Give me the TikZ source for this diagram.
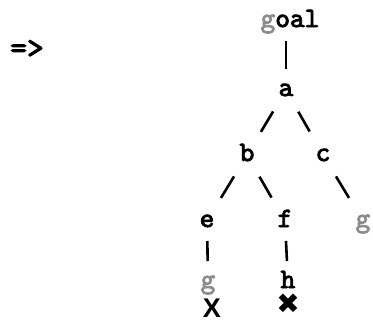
\documentclass[tikz,border=0pt]{standalone}
\usepackage{fontspec}
\newfontfamily\typefont{lmmono10-regular.otf}[FakeBold=3]
\newfontfamily\crossfont{DejaVu Sans}
\newfontfamily\markfont{Liberation Sans}
\tikzset{
  letter/.style={inner sep=0pt, text height=12pt, text depth=0pt,
    font=\typefont\fontsize{28}{28}\selectfont},
  faint/.style={letter, text=black!45},
  stem/.style={line width=2.6pt, shorten <=20pt, shorten >=21pt},
  branch/.style={line width=2.6pt, shorten <=25pt, shorten >=27pt}
}

\begin{document}
\begin{tikzpicture}[x=1pt, y=-1pt]
  \useasboundingbox (0,0) rectangle (373,325);
  % rows of the tree
  \def\Ra{21}
  \def\Rb{90}
  \def\Rc{155}
  \def\Rd{221}
  \def\Re{282}

        \node[letter, font=\typefont\fontsize{32}{32}\selectfont] (imp) at (27, 52) {=>};

        \node[letter] (goal) at (290, \Ra) {\textcolor{black!45}{g}oal};
        \node[letter] (a) at (286, \Rb) {a};
        \node[letter] (b) at (247, \Rc) {b};
        \node[letter] (c) at (323, \Rc) {c};
        \node[letter] (e) at (207, \Rd) {e};
        \node[letter] (f) at (285, \Rd) {f};
        \node[faint] (g1) at (363, \Rd) {g};
        \node[faint] (g2) at (208, \Re) {g};
        \node[letter] (h) at (288, \Re) {h};

        % failed branches
        \node[inner sep=0pt, font=\markfont\fontsize{27}{27}\selectfont\bfseries] (fail1) at (212, 308) {X};
        \node[inner sep=0pt, font=\crossfont\fontsize{28}{28}\selectfont] (fail2) at (288, 304) {✖};

	\draw[stem] (a |- goal) -- (a.center);
	\draw[branch] (a.center) -- (b.center);
	\draw[branch] (a.center) -- (c.center);
	\draw[branch] (b.center) -- (e.center);
	\draw[branch] (b.center) -- (f.center);
	\draw[branch] (c.center) -- (g1.center);
	\draw[stem] (e.center) -- (g2.center);
	\draw[stem] (f.center) -- (h.center);
\end{tikzpicture}
\end{document}
